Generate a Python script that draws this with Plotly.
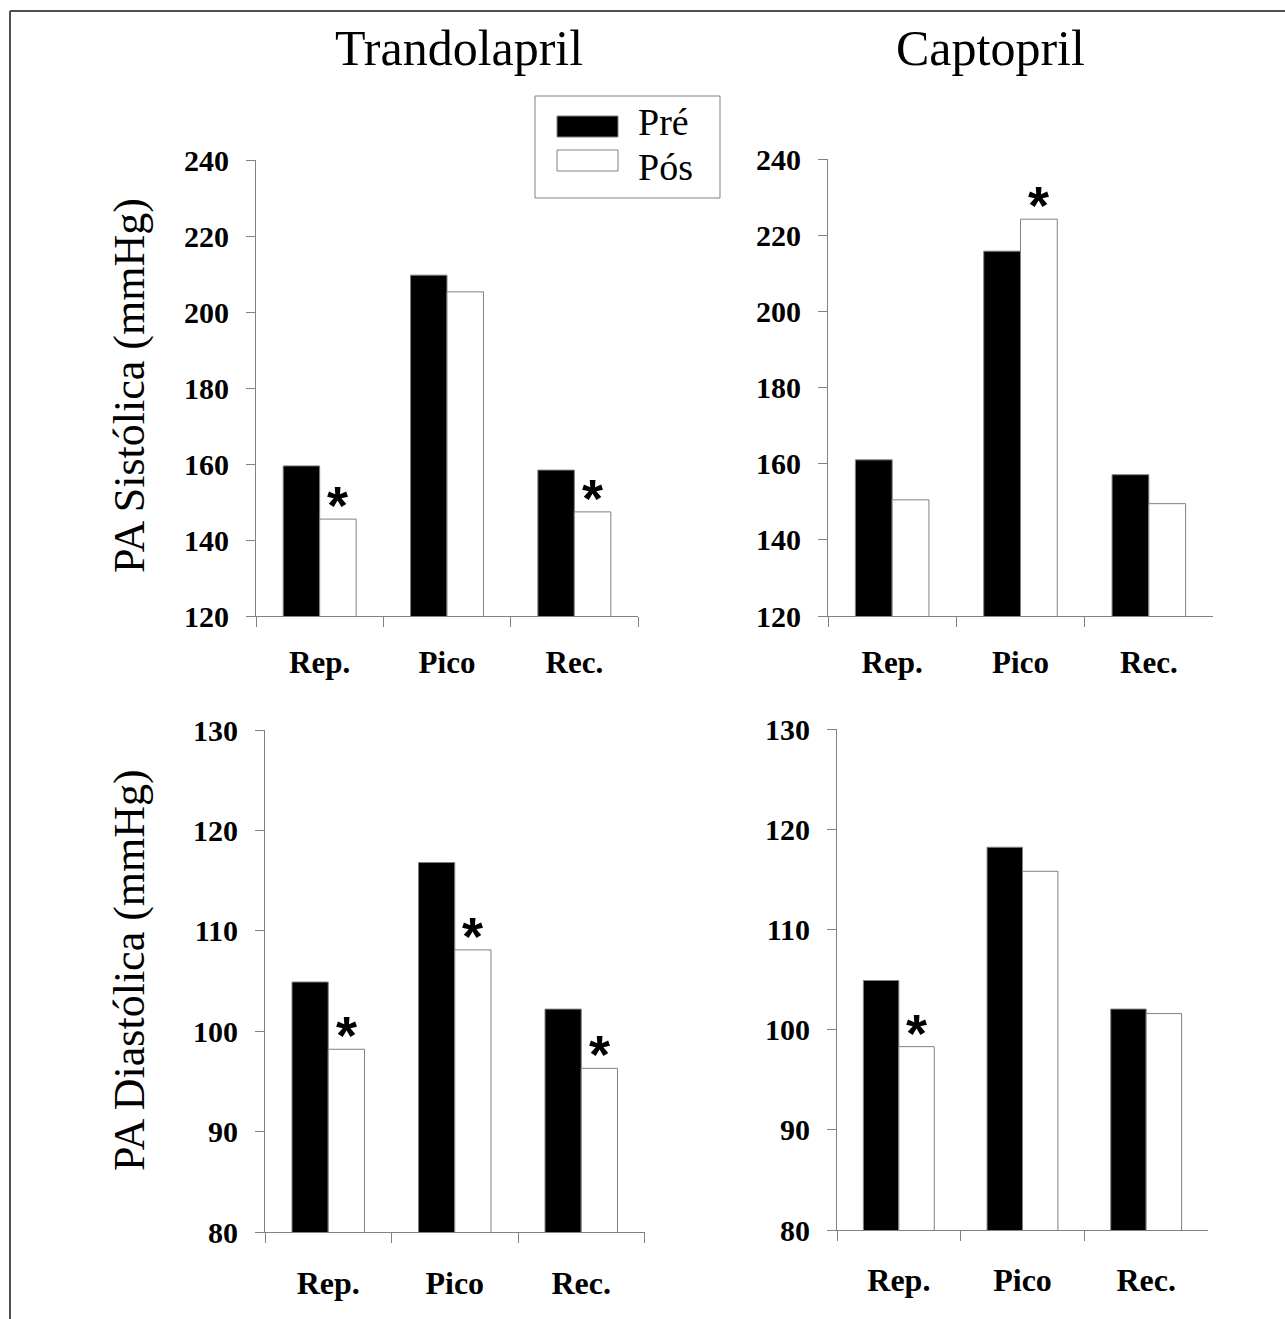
import plotly.graph_objects as go

W, H = 1285, 1319

categories = ["Rep.", "Pico", "Rec."]
drugs = ["Trandolapril", "Captopril"]

sys_trando_pre = [159.5, 209.7, 158.4]
sys_trando_pos = [145.5, 205.3, 147.4]
sys_capto_pre = [161.0, 215.8, 157.1]
sys_capto_pos = [150.5, 224.2, 149.5]

dia_trando_pre = [104.9, 116.8, 102.2]
dia_trando_pos = [98.2, 108.1, 96.3]
dia_capto_pre = [104.9, 118.2, 102.05]
dia_capto_pos = [98.3, 115.8, 101.6]

sig_sys_trando = [True, False, True]
sig_sys_capto = [False, True, False]
sig_dia_trando = [True, True, True]
sig_dia_capto = [True, False, False]

sys_ticks = [120, 140, 160, 180, 200, 220, 240]
dia_ticks = [80, 90, 100, 110, 120, 130]

series_names = ["Pré", "Pós"]
y_titles = ["PA Sistólica (mmHg)", "PA Diastólica (mmHg)"]

SERIF = "Liberation Serif"
GREY = "#808080"

# panel pixel boxes: (x0, x1, ybottom_px, ytop_px)
panels = [
    dict(x0=256, x1=638, yb=616, yt=160, pre=sys_trando_pre, pos=sys_trando_pos, sig=sig_sys_trando,
         ticks=sys_ticks, xfs=31, xstand=19),
    dict(x0=828, x1=1213, yb=616, yt=159, pre=sys_capto_pre, pos=sys_capto_pos, sig=sig_sys_capto,
         ticks=sys_ticks, xfs=31, xstand=19),
    dict(x0=265, x1=644.5, yb=1232, yt=730, pre=dia_trando_pre, pos=dia_trando_pos, sig=sig_dia_trando,
         ticks=dia_ticks, xfs=32, xstand=23),
    dict(x0=837, x1=1208, yb=1230, yt=729, pre=dia_capto_pre, pos=dia_capto_pos, sig=sig_dia_capto,
         ticks=dia_ticks, xfs=32, xstand=22),
]

fig = go.Figure()
annotations = []
layout = {}

for i, p in enumerate(panels):
    n = i + 1
    xa = "x" if n == 1 else f"x{n}"
    ya = "y" if n == 1 else f"y{n}"
    fig.add_trace(go.Bar(x=categories, y=p["pre"], name=series_names[0], xaxis=xa, yaxis=ya,
                         marker=dict(color="black", line=dict(color=GREY, width=1)),
                         showlegend=False, offsetgroup="pre", hoverinfo="skip"))
    fig.add_trace(go.Bar(x=categories, y=p["pos"], name=series_names[1], xaxis=xa, yaxis=ya,
                         marker=dict(color="white", line=dict(color=GREY, width=1)),
                         showlegend=False, offsetgroup="pos", hoverinfo="skip"))
    xkey = "xaxis" if n == 1 else f"xaxis{n}"
    ykey = "yaxis" if n == 1 else f"yaxis{n}"
    layout[xkey] = dict(
        domain=[p["x0"] / W, p["x1"] / W], anchor=ya, type="category", automargin=False,
        showline=True, linecolor=GREY, linewidth=1, ticks="outside", ticklen=10,
        tickcolor=GREY, tickwidth=1, tickson="boundaries", showgrid=False, zeroline=False,
        tickfont=dict(family=SERIF, size=p["xfs"], color="black", weight="bold"),
        ticklabelstandoff=p["xstand"], fixedrange=True,
    )
    layout[ykey] = dict(
        domain=[1 - p["yb"] / H, 1 - p["yt"] / H], anchor=xa, automargin=False,
        range=[p["ticks"][0], p["ticks"][-1]], tickvals=p["ticks"],
        showline=True, linecolor=GREY, linewidth=1, ticks="outside", ticklen=9,
        tickcolor=GREY, tickwidth=1, showgrid=False, zeroline=False,
        tickfont=dict(family=SERIF, size=30, color="black", weight="bold"),
        ticklabelstandoff=11, fixedrange=True,
    )
    barw = (p["x1"] - p["x0"]) / 3 * 0.573 / 2
    for c, s, v in zip(categories, p["sig"], p["pos"]):
        if s:
            annotations.append(dict(
                x=c, y=v, xref=xa, yref=ya, text="*", showarrow=False,
                xshift=barw / 2, yanchor="middle", yshift=14,
                font=dict(family="Liberation Sans", size=54, color="black", weight="bold"),
            ))

# column titles
for name, cx in zip(drugs, [459, 990]):
    annotations.append(dict(x=cx / W, y=1 - 47.5 / H, xref="paper", yref="paper", text=name,
                            showarrow=False, xanchor="center", yanchor="middle",
                            font=dict(family=SERIF, size=50, color="black")))
# y-axis titles
for t, cy in zip(y_titles, [386, 970]):
    annotations.append(dict(x=129 / W, y=1 - cy / H, xref="paper", yref="paper", text=t,
                            showarrow=False, xanchor="center", yanchor="middle", textangle=-90,
                            font=dict(family=SERIF, size=44, color="black")))

# manual legend
shapes = [
    dict(type="rect", xref="paper", yref="paper", x0=535 / W, x1=720 / W, y0=1 - 198 / H, y1=1 - 96 / H,
         line=dict(color=GREY, width=1), fillcolor="white", layer="below"),
    dict(type="rect", xref="paper", yref="paper", x0=557 / W, x1=618 / W, y0=1 - 137 / H, y1=1 - 116 / H,
         line=dict(color=GREY, width=1), fillcolor="black"),
    dict(type="rect", xref="paper", yref="paper", x0=557 / W, x1=618 / W, y0=1 - 171 / H, y1=1 - 150 / H,
         line=dict(color=GREY, width=1), fillcolor="white"),
    # outer frame (top and left)
    dict(type="line", xref="paper", yref="paper", x0=10 / W, x1=1, y0=1 - 11 / H, y1=1 - 11 / H,
         line=dict(color="#505050", width=2)),
    dict(type="line", xref="paper", yref="paper", x0=10 / W, x1=10 / W, y0=0, y1=1 - 11 / H,
         line=dict(color="#505050", width=2)),
]
for name, cy in zip(series_names, [122, 167]):
    annotations.append(dict(x=636 / W, y=1 - cy / H, xref="paper", yref="paper", text=name,
                            showarrow=False, xanchor="left", yanchor="middle",
                            font=dict(family=SERIF, size=38, color="black")))

fig.update_layout(
    width=W, height=H, margin=dict(l=0, r=0, t=0, b=0, autoexpand=False),
    paper_bgcolor="white", plot_bgcolor="white",
    barmode="group", bargap=0.427, bargroupgap=0,
    annotations=annotations, shapes=shapes, showlegend=False, hovermode=False,
    **layout,
)

post = """
document.documentElement.style.margin='0';
document.documentElement.style.padding='0';
document.documentElement.style.overflow='hidden';
document.body.style.margin='0';
document.body.style.padding='0';
document.body.style.overflow='hidden';
var gd = document.getElementById('{plot_id}');
var p = gd.parentElement;
p.style.margin='0'; p.style.padding='0'; p.style.fontSize='0'; p.style.lineHeight='0';
"""

fig.write_html("out.html", post_script=post, config={"displayModeBar": False})
